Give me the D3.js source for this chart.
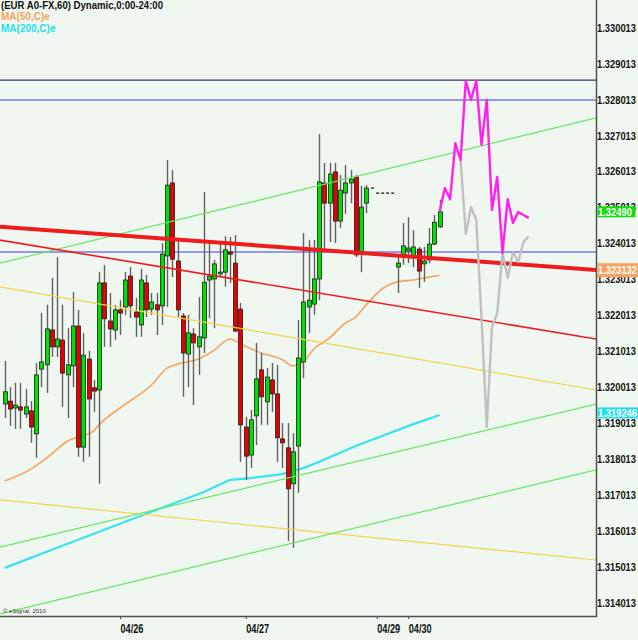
<!DOCTYPE html>
<html><head><meta charset="utf-8">
<script src="https://cdn.jsdelivr.net/npm/d3@7/dist/d3.min.js"></script>
<style>
html,body{margin:0;padding:0;background:#f0f7f0;}
svg{display:block;font-family:"Liberation Sans",Arial,sans-serif;}
</style>
</head><body>
<svg id="chart" width="638" height="640"></svg>
<script>
// ---------- DATA ----------
const titleText = "(EUR A0-FX,60) Dynamic,0:00-24:00";
const ma50Name = "MA(50,C)e";
const ma200Name = "MA(200,C)e";

// bar slot of each hourly candle (hours with no bar are skipped)
const candleIdx = d3.range(0, 70).concat(d3.range(75, 84));

const openP = [1.31955,1.31963,1.31944,1.31947,1.31927,1.31936,1.31872,1.32052,1.32064,1.32161,
1.32114,1.32133,1.32036,1.32061,1.32172,1.31835,1.32080,1.32000,1.31994,1.32292,
1.32186,1.32161,1.32217,1.32225,1.32311,1.32211,1.32175,1.32292,1.32219,1.32231,
1.32228,1.32367,1.32570,1.32353,1.32200,1.32094,1.32150,1.32114,1.32139,1.32300,
1.32303,1.32317,1.32322,1.32378,1.32347,1.32219,1.31891,1.31813,1.31922,1.32050,
1.31961,1.32022,1.31983,1.31858,1.31833,1.31733,1.31838,1.32072,1.32225,1.32233,
1.32303,1.32570,1.32514,1.32601,1.32464,1.32542,1.32570,1.32587,1.32372,1.32514,
1.32336,1.32364,1.32381,1.32367,1.32386,1.32345,1.32356,1.32400,1.32448];

const highP = [1.32075,1.32002,1.32014,1.32014,1.31997,1.31963,1.32069,1.32208,1.32231,1.32306,
1.32364,1.32231,1.32166,1.32267,1.32217,1.32153,1.32103,1.32022,1.32322,1.32342,
1.32264,1.32231,1.32244,1.32322,1.32336,1.32250,1.32331,1.32314,1.32264,1.32264,
1.32403,1.32634,1.32606,1.32411,1.32208,1.32203,1.32166,1.32253,1.32545,1.32406,
1.32356,1.32403,1.32422,1.32420,1.32425,1.32236,1.31919,1.31938,1.32125,1.32097,
1.32055,1.32069,1.32064,1.31902,1.31902,1.31874,1.32189,1.32431,1.32411,1.32411,
1.32706,1.32626,1.32626,1.32626,1.32592,1.32620,1.32606,1.32592,1.32562,1.32564,
1.32372,1.32459,1.32475,1.32439,1.32392,1.32392,1.32445,1.32481,1.32523];

const lowP = [1.31916,1.31894,1.31886,1.31886,1.31916,1.31847,1.31805,1.32002,1.31986,1.32086,
1.32086,1.31947,1.31916,1.32002,1.31808,1.31794,1.31808,1.31933,1.31733,1.32114,
1.32114,1.32133,1.32147,1.32203,1.32194,1.32142,1.32142,1.32197,1.32203,1.32147,
1.32175,1.32225,1.32308,1.32197,1.31975,1.32002,1.31952,1.32036,1.32097,1.32194,
1.32166,1.32308,1.32281,1.32292,1.32155,1.31794,1.31744,1.31777,1.31841,1.31897,
1.31897,1.31933,1.31794,1.31777,1.31574,1.31555,1.31708,1.32027,1.32153,1.32203,
1.32244,1.32384,1.32406,1.32403,1.32445,1.32484,1.32514,1.32364,1.32322,1.32486,
1.32264,1.32342,1.32347,1.32336,1.32278,1.32295,1.32347,1.32397,1.32445];

const closeP = [1.31989,1.31941,1.31952,1.31938,1.31947,1.31891,1.32036,1.32072,1.32164,1.32114,
1.32136,1.32041,1.32064,1.32172,1.31835,1.32091,1.31969,1.31991,1.32292,1.32192,
1.32164,1.32217,1.32208,1.32300,1.32228,1.32197,1.32300,1.32217,1.32239,1.32217,
1.32372,1.32564,1.32358,1.32217,1.32097,1.32153,1.32125,1.32142,1.32294,1.32311,
1.32345,1.32322,1.32384,1.32372,1.32158,1.31897,1.31810,1.31911,1.32025,1.31975,
1.32030,1.31983,1.31861,1.31847,1.31719,1.31822,1.32083,1.32239,1.32244,1.32303,
1.32573,1.32514,1.32595,1.32464,1.32550,1.32570,1.32581,1.32370,1.32503,1.32556,
1.32347,1.32395,1.32389,1.32392,1.32325,1.32353,1.32400,1.32461,1.32490];

// moving averages (slot, value)
const ma50Idx = [0,5,8,12,17,18,22,28,31,33,37,40,43,45,49,53,55,57,59,62,65,67,69,72,75,78,81,83];
const ma50Val = [1.31741,1.31774,1.31805,1.31852,1.31880,1.31897,1.31944,1.32008,1.32055,1.32066,1.32080,1.32105,1.32136,1.32122,1.32097,1.32078,1.32061,1.32072,1.32108,1.32139,1.32180,1.32197,1.32231,1.32275,1.32295,1.32300,1.32308,1.323132];
const ma200Idx = [0,10,19,28,34,38,43,47,53,57,60,63,67,72,78,83];
const ma200Val = [1.31499,1.31555,1.31605,1.31655,1.31688,1.31710,1.31744,1.31749,1.31760,1.31777,1.31794,1.31813,1.31838,1.31866,1.31899,1.319246];

// projections
const magIdx = d3.range(83, 101);
const magVal = [1.32490,1.32556,1.32525,1.32681,1.32634,1.32854,1.32801,1.32854,1.32676,1.32801,1.32495,1.32587,1.32375,1.32525,1.32459,1.32489,1.32481,1.32473];
const grayIdx = d3.range(87, 101);
const grayVal = [1.32634,1.32428,1.32503,1.32467,1.32194,1.31891,1.32169,1.32208,1.32375,1.32306,1.32378,1.32350,1.32406,1.32422];

// horizontal levels
const hLevels = [1.32856, 1.32801, 1.32378];
const hColors = ["#35357a", "#3a3aee", "#3a3aee"];

// trend lines: [slot0, price0, slot1, price1]
const trendLines = [
  {p: [-0.9, 1.32281, 112.85, 1.31994], c: "#f2d44a", w: 1.2},   // upper yellow
  {p: [-0.9, 1.31688, 112.85, 1.31521], c: "#f2d44a", w: 1.2},   // lower yellow
  {p: [-0.9, 1.32347, 112.85, 1.32751], c: "#66e866", w: 1.2},   // upper green
  {p: [-0.9, 1.31557, 112.85, 1.31955], c: "#66e866", w: 1.2},   // mid green
  {p: [-0.9, 1.31371, 112.85, 1.31772], c: "#66e866", w: 1.2},   // low green
  {p: [-0.9, 1.32411, 112.85, 1.32136], c: "#ee1c1c", w: 1.6},   // thin red
  {p: [-0.9, 1.32448, 112.85, 1.32328], c: "#ee1c1c", w: 4}      // thick red
];

const priceTicks = d3.range(0, 17).map(k => 1.314013 + k * 0.001);
const dateTickIdx = [22, 46, 71, 77];
const dateLabels = ["04/26", "04/27", "04/29", "04/30"];

// marker of previous level
const markerPrice = 1.32542;
const markerTick = 1.32556;

// ---------- CHART ----------
const W = 638, H = 640, plotR = 596, plotB = 616;
const svg = d3.select("#chart");
svg.append("rect").attr("width", W).attr("height", H).attr("fill", "#f0f7f0");

const x = d3.scaleLinear().domain([-0.9, 112.85]).range([0, plotR]);
const y = d3.scaleLinear().domain([1.314013, 1.330013]).range([603, 28]);

svg.append("clipPath").attr("id", "clip").append("rect")
  .attr("x", 0).attr("y", 0).attr("width", plotR).attr("height", plotB);
const plot = svg.append("g").attr("clip-path", "url(#clip)");

// horizontal levels
plot.selectAll(".hl").data(hLevels).join("line")
  .attr("x1", 0).attr("x2", plotR)
  .attr("y1", d => y(d)).attr("y2", d => y(d))
  .attr("stroke", (d, i) => hColors[i]).attr("stroke-width", 1.2);

// moving averages
const lineGen = d3.line().x(d => x(d[0])).y(d => y(d[1]));
plot.append("path").datum(ma200Idx.map((d, i) => [d, ma200Val[i]]))
  .attr("d", lineGen).attr("fill", "none").attr("stroke", "#38e2f0").attr("stroke-width", 2.2);
plot.append("path").datum(ma50Idx.map((d, i) => [d, ma50Val[i]]))
  .attr("d", lineGen.curve(d3.curveMonotoneX)).attr("fill", "none").attr("stroke", "#f4a460").attr("stroke-width", 1.6);

// candles
const candles = candleIdx.map((s, i) => ({s, o: openP[i], h: highP[i], l: lowP[i], c: closeP[i]}));
const cg = plot.append("g");
cg.selectAll(".wick").data(candles).join("line")
  .attr("x1", d => Math.round(x(d.s)) + 0.5).attr("x2", d => Math.round(x(d.s)) + 0.5)
  .attr("y1", d => y(d.h)).attr("y2", d => y(d.l))
  .attr("stroke", "#606060").attr("stroke-width", 1.4);
cg.selectAll(".body").data(candles).join("rect")
  .attr("x", d => Math.round(x(d.s)) - 1.5)
  .attr("y", d => y(Math.max(d.o, d.c)))
  .attr("width", 4)
  .attr("height", d => Math.max(1.5, Math.abs(y(d.o) - y(d.c))))
  .attr("fill", d => d.c >= d.o ? "#00e000" : "#e80000")
  .attr("stroke", "#1e1e1e").attr("stroke-width", 0.8);

// trend lines
plot.selectAll(".tl").data(trendLines).join("line")
  .attr("x1", d => x(d.p[0])).attr("y1", d => y(d.p[1]))
  .attr("x2", d => x(d.p[2])).attr("y2", d => y(d.p[3]))
  .attr("stroke", d => d.c).attr("stroke-width", d => d.w);

// marker dashes
plot.append("line").attr("x1", x(69.9)).attr("x2", x(70.5))
  .attr("y1", y(markerTick)).attr("y2", y(markerTick)).attr("stroke", "#111").attr("stroke-width", 1.2);
plot.append("line").attr("x1", x(70.9)).attr("x2", x(74.7))
  .attr("y1", y(markerPrice)).attr("y2", y(markerPrice)).attr("stroke", "#111")
  .attr("stroke-width", 1.2).attr("stroke-dasharray", "3,2");

// projections
const straight = d3.line().x(d => x(d[0])).y(d => y(d[1]));
plot.append("path").datum(grayIdx.map((d, i) => [d, grayVal[i]]))
  .attr("d", straight).attr("fill", "none").attr("stroke", "#c0c0c0").attr("stroke-width", 2.4).attr("stroke-linejoin", "round");
plot.append("path").datum(magIdx.map((d, i) => [d, magVal[i]]))
  .attr("d", straight).attr("fill", "none").attr("stroke", "#ff22ee").attr("stroke-width", 2.4).attr("stroke-linejoin", "round");

// axes
const yAxis = d3.axisRight(y).tickValues(priceTicks).tickSize(0).tickPadding(1).tickFormat(d3.format(".6f"));
const ya = svg.append("g").attr("transform", `translate(${plotR},0)`).call(yAxis);
ya.select(".domain").remove();
ya.selectAll("text").attr("font-size", 10).attr("font-weight", "bold").attr("fill", "#111")
  .attr("font-family", "Liberation Sans, Arial, sans-serif")
  .attr("textLength", 39).attr("lengthAdjust", "spacingAndGlyphs");

const xAxis = d3.axisBottom(x).tickValues(dateTickIdx).tickSize(3).tickFormat((d, i) => dateLabels[i]);
const xa = svg.append("g").attr("transform", `translate(0,${plotB})`).call(xAxis);
xa.select(".domain").remove();
xa.selectAll("line").attr("stroke", "#444");
xa.selectAll("text").attr("text-anchor", "start").attr("dy", null).attr("y", 17)
  .attr("font-size", 12).attr("font-weight", "bold").attr("fill", "#111")
  .attr("font-family", "Liberation Sans Narrow, Liberation Sans, Arial, sans-serif")
  .attr("textLength", 23).attr("lengthAdjust", "spacingAndGlyphs");

// frame
svg.append("line").attr("x1", plotR + 0.5).attr("x2", plotR + 0.5).attr("y1", 0).attr("y2", plotB + 1)
  .attr("stroke", "#505050").attr("stroke-width", 1.5);
svg.append("line").attr("x1", 0).attr("x2", plotR + 1).attr("y1", plotB + 0.5).attr("y2", plotB + 0.5)
  .attr("stroke", "#505050").attr("stroke-width", 1.5);

// value boxes on the price axis
const boxes = [
  {v: closeP[closeP.length - 1], t: d3.format(".5f")(closeP[closeP.length - 1]), c: "#10dd10", dy: 0, h: 11, w: 38},
  {v: ma50Val[ma50Val.length - 1], t: d3.format(".6f")(ma50Val[ma50Val.length - 1]), c: "#f4a460", dy: -5, h: 14, w: 41},
  {v: ma200Val[ma200Val.length - 1], t: d3.format(".6f")(ma200Val[ma200Val.length - 1]), c: "#22e0ea", dy: -2, h: 11, w: 41}
];
const bg = svg.append("g");
bg.selectAll("rect").data(boxes).join("rect")
  .attr("x", plotR + 1.5).attr("y", d => y(d.v) + d.dy - d.h / 2).attr("width", d => d.w).attr("height", d => d.h)
  .attr("fill", d => d.c);
bg.selectAll("text").data(boxes).join("text")
  .attr("x", plotR + 2).attr("y", d => y(d.v) + d.dy + 3.8)
  .attr("font-size", 10).attr("font-weight", "bold").attr("fill", "#fff")
  .attr("textLength", d => d.t.length > 7 ? 39 : 34).attr("lengthAdjust", "spacingAndGlyphs")
  .text(d => d.t);

// legend
const lg = svg.append("g").attr("font-weight", "bold").attr("font-size", 10);
lg.append("text").attr("x", 1).attr("y", 9).attr("fill", "#111").text(titleText)
  .attr("textLength", 162).attr("lengthAdjust", "spacingAndGlyphs");
lg.append("text").attr("x", 1).attr("y", 20).attr("fill", "#f4a460").text(ma50Name);
lg.append("text").attr("x", 1).attr("y", 32).attr("fill", "#22e0ea").text(ma200Name);

// copyright
svg.append("text").attr("x", 3).attr("y", 613).attr("font-size", 6).attr("fill", "#333").text("© eSignal, 2010");
</script>
</body></html>
